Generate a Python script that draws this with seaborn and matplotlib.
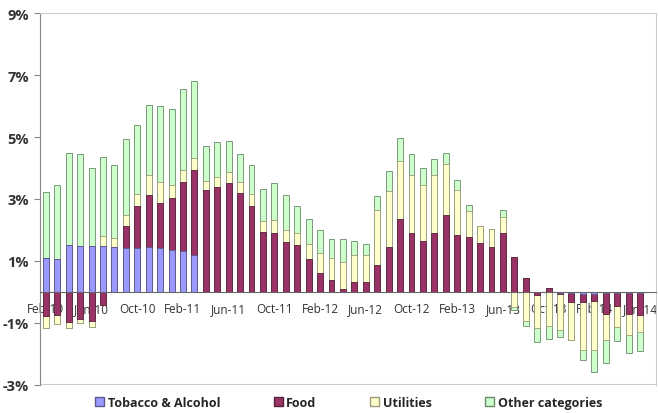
import numpy as np
import pandas as pd
import matplotlib
matplotlib.use("Agg")
import matplotlib.pyplot as plt
import seaborn as sns
from matplotlib.patches import Patch

sns.set_style("white")
plt.rcParams['font.family'] = ['Open Sans', 'DejaVu Sans']

# monthly contributions (percentage points), Feb-10 .. Jun-14
months = pd.date_range("2010-02-01", "2014-06-01", freq="MS").strftime("%b-%y").tolist()

tobacco = [1.10, 1.07, 1.53, 1.49, 1.48, 1.47, 1.45, 1.42, 1.42, 1.44, 1.43, 1.36, 1.31, 1.20,
           0, 0, 0, 0, 0, 0, 0, 0, 0, 0, 0, 0, 0, 0, 0, 0, 0, 0, 0, 0, 0, 0, 0, 0, 0, 0, 0,
           0, 0, 0, 0,
           -0.05, -0.05, -0.06, -0.08, -0.05, -0.05, -0.03, -0.03]

food = [-0.77, -0.75, -0.97, -0.86, -0.95, -0.43, 0, 0.71, 1.35, 1.70, 1.45, 1.67, 2.23, 2.75,
        3.28, 3.39, 3.52, 3.18, 2.76, 1.94, 1.89, 1.61, 1.53, 1.07, 0.60, 0.37, 0.09, 0.33,
        0.32, 0.88, 1.45, 2.36, 1.91, 1.63, 1.91, 2.47, 1.85, 1.77, 1.58, 1.45, 1.90, 1.13,
        0.46, -0.10, 0.13, -0.02, -0.27, -0.26, -0.20, -0.65, -0.40, -0.67, -0.70]

utilities = [-0.39, -0.29, -0.19, -0.14, -0.18, 0.34, 0.30, 0.36, 0.38, 0.64, 0.67, 0.43, 0.41, 0.38,
             0.31, 0.32, 0.35, 0.37, 0.41, 0.36, 0.44, 0.38, 0.36, 0.49, 0.67, 0.74, 0.87, 0.85,
             0.86, 1.75, 1.80, 1.85, 1.85, 1.83, 1.85, 1.66, 1.45, 0.83, 0.54, 0.57, 0.52, -0.50,
             -0.95, -1.05, -1.11, -1.17, -1.24, -1.56, -1.58, -0.86, -0.67, -0.68, -0.58]

other = [2.13, 2.39, 2.94, 2.97, 2.53, 2.54, 2.36, 2.43, 2.25, 2.24, 2.44, 2.45, 2.61, 2.48,
         1.12, 1.13, 0.99, 0.91, 0.92, 1.03, 1.20, 1.13, 0.88, 0.78, 0.73, 0.61, 0.76, 0.47,
         0.37, 0.47, 0.66, 0.77, 0.68, 0.54, 0.52, 0.36, 0.30, 0.19, 0.0, 0.0, 0.21, -0.10,
         -0.15, -0.48, -0.40, -0.23, 0.0, -0.32, -0.72, -0.75, -0.48, -0.58, -0.59]

names = ["Tobacco & Alcohol", "Food", "Utilities", "Other categories"]
colors = ["#9999ff", "#993366", "#ffffcc", "#ccffcc"]
edges = ["#5c5c8a", "#55203a", "#9a9a78", "#6a8a6a"]

df = pd.DataFrame({"month": months, names[0]: tobacco, names[1]: food,
                   names[2]: utilities, names[3]: other})

vals = df[names].to_numpy()
pos = np.clip(vals, 0, None).cumsum(axis=1)
neg = np.clip(vals, None, 0).cumsum(axis=1)

fig, ax = plt.subplots(figsize=(6.58, 4.14), dpi=100)

# stacked bars: draw cumulative totals from the top layer down
for k in range(3, -1, -1):
    for cum in (pos, neg):
        sns.barplot(x=df["month"], y=cum[:, k], color=colors[k], edgecolor=edges[k],
                    linewidth=0.6, width=0.52, saturation=1, errorbar=None, ax=ax)

ax.set_xlim(-0.44, 53.4)
ax.set_ylim(-3, 9)
ax.set_xlabel("")
ax.set_ylabel("")

# month labels sit under the bars, as in the original
ax.set_axisbelow(True)

ax.set_xticks(range(0, len(months), 4))
ax.set_xticklabels(months[::4])
ax.set_xticks(np.arange(-0.5, len(months), 4), minor=True)
ax.tick_params(axis="x", which="major", length=0, pad=7, labelsize=8.5, labelcolor="#333333")
ax.tick_params(axis="x", which="minor", length=3, color="#666666", direction="out")
for lab in ax.get_xticklabels():
    lab.set_fontweight("bold")

ax.set_yticks(range(-3, 10, 2))
ax.set_yticklabels([f"{v}%" for v in range(-3, 10, 2)])
ax.tick_params(axis="y", length=4, color="#888888", left=True, pad=4, labelsize=10.5, labelcolor="#333333")
for lab in ax.get_yticklabels():
    lab.set_fontweight("bold")

ax.spines["bottom"].set_position(("data", 0))
ax.spines["bottom"].set_color("#666666")
ax.spines["bottom"].set_zorder(9)
ax.spines["left"].set_color("#888888")
ax.spines["top"].set_color("#cccccc")
ax.spines["right"].set_color("#cccccc")
ax.axhline(-3, color="#cccccc", lw=1.5, zorder=0)
ax.grid(False)

handles = [Patch(facecolor=c, edgecolor=e, label=n) for c, e, n in zip(colors, edges, names)]
fig.legend(handles=handles, loc="center", bbox_to_anchor=(0.53, 0.026), ncol=4, frameon=False,
           handlelength=0.7, handleheight=0.7, handletextpad=0.3, columnspacing=4.3,
           prop=dict(weight="bold", size=9))

plt.subplots_adjust(left=0.061, right=0.997, top=0.966, bottom=0.068)
plt.savefig("out.png", dpi=100)
